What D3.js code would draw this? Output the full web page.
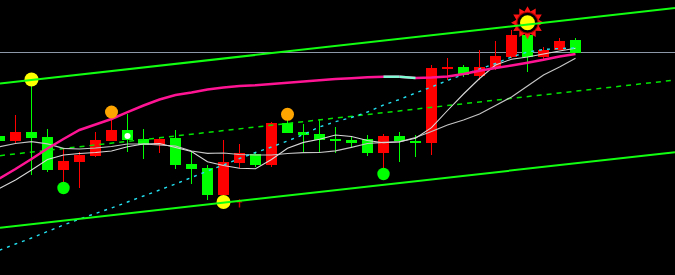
<!DOCTYPE html>
<html><head><meta charset="utf-8">
<script src="https://cdn.jsdelivr.net/npm/d3@7"></script>
<style>html,body{margin:0;padding:0;background:#000;overflow:hidden}</style>
</head><body>
<svg id="c" width="675" height="275"></svg>
<script>
// ---- data (price units) ----
const opens  = [13.9,13.4,14.3,13.8,10.53,11.33,11.93,13.4,14.5,13.57,13.0,13.73,11.1,10.7,8.0,11.23,12.1,11.0,15.23,14.33,14.1,13.6,13.5,13.6,12.23,13.93,13.4,13.17,20.6,20.83,19.9,20.73,21.83,24.0,21.83,22.5,23.5];
const closes = [13.43,14.33,13.73,10.5,11.4,12.0,13.5,14.5,13.5,13.0,13.65,11.0,10.6,8.0,11.33,12.17,11.0,15.2,14.23,14.0,13.5,13.4,13.23,12.23,13.93,13.43,13.17,20.67,20.8,20.0,20.77,21.9,24.0,21.83,22.5,23.4,22.25];
const highs  = [13.95,16.0,19.55,14.6,12.7,12.33,14.35,16.2,16.1,14.6,13.83,14.5,12.4,11.0,13.5,13.1,12.35,15.27,16.0,15.1,15.6,14.83,13.8,14.0,14.1,14.33,14.0,21.0,21.67,21.0,22.5,23.4,24.5,25.2,22.83,23.7,23.73];
const lows   = [13.4,13.1,10.0,10.3,8.7,8.7,11.8,13.4,12.33,11.63,12.23,10.6,9.1,7.5,7.3,10.7,10.8,10.77,14.23,12.2,12.2,12.2,12.83,11.93,10.1,11.33,11.77,12.0,19.5,19.77,19.5,20.5,21.7,20.33,21.57,22.5,22.25];

const maSlow  = [12.83,13.15,13.33,13.12,12.67,12.6,12.7,12.85,13.1,13.1,13.0,12.9,12.4,12.17,12.2,12.05,12.0,12.0,12.15,12.23,12.25,12.42,12.77,13.15,13.27,13.32,13.75,14.35,15.0,15.5,16.1,16.95,17.8,18.9,20.0,20.8,21.67];
const maFast  = [8.65,9.5,10.5,11.55,12.0,12.15,12.25,12.4,12.83,13.1,13.15,12.75,12.35,11.33,10.95,10.68,10.62,11.55,12.67,13.26,13.57,14.0,13.85,13.45,13.23,13.32,13.67,14.73,16.45,18.1,19.65,21.0,21.58,21.8,22.1,22.4,22.67];
const cyanLine = [2.48,3.1,3.7,4.35,5.0,5.6,6.15,6.7,7.3,7.9,8.5,9.1,9.75,10.4,11.0,11.65,12.25,12.8,13.4,14.05,14.8,15.33,15.75,16.3,17.0,17.55,18.2,18.8,19.45,20.05,20.6,21.15,21.8,22.3,22.55,22.65,22.7];
const pinkLine = [9.65,10.6,11.6,12.65,13.6,14.5,15.05,15.6,16.28,16.95,17.55,18.0,18.25,18.55,18.74,18.9,18.98,19.1,19.22,19.35,19.48,19.6,19.68,19.77,19.83,19.83,19.7,19.75,19.85,20.1,20.42,20.7,20.95,21.23,21.52,21.85,22.1];

const channelUpper = [[0,19.14],[36,25.59]];
const channelMid   = [[0,11.93],[36,18.38]];
const channelLower = [[0,4.72],[36,11.17]];

const yellowIdx = [2,14];      const yellowVal = [19.55,7.3];
const orangeIdx = [7,18];      const orangeVal = [16.3,16.07];
const greenIdx  = [4,24];      const greenVal  = [8.7,10.1];
const whiteIdx  = [8];         const whiteVal  = [13.9];
const arrowIdx  = [15];        const arrowVal  = [7.15];
const sunIdx    = [33];        const sunVal    = [25.23];

// ---- drawing ----
const W = 675, H = 275;
const svg = d3.select('#c');
svg.append('rect').attr('width', W).attr('height', H).attr('fill', '#000');

const x = d3.scaleLinear().domain([0, 36]).range([-0.5, 575.5]);
const y = d3.scaleLinear().domain([0, 27.5]).range([275, 0]);

// last price line
const lastClose = closes[closes.length - 1];
svg.append('line').attr('x1', 0).attr('x2', W)
  .attr('y1', y(lastClose)).attr('y2', y(lastClose))
  .attr('stroke', '#8c98a8').attr('stroke-width', 1).attr('shape-rendering', 'crispEdges');

// candles
const idx = d3.range(opens.length);
const up = i => closes[i] > opens[i];
const cg = svg.append('g').attr('shape-rendering', 'crispEdges');
cg.selectAll('rect.w').data(idx).join('rect').attr('class', 'w')
  .attr('x', i => x(i) - 0.5).attr('width', 1)
  .attr('y', i => y(highs[i])).attr('height', i => y(lows[i]) - y(highs[i]))
  .attr('fill', i => up(i) ? '#ff0000' : '#00ff00');
cg.selectAll('rect.b').data(idx).join('rect').attr('class', 'b')
  .attr('x', i => x(i) - 5.5).attr('width', 11)
  .attr('y', i => y(Math.max(opens[i], closes[i])))
  .attr('height', i => Math.max(1, Math.abs(y(opens[i]) - y(closes[i]))))
  .attr('fill', i => up(i) ? '#ff0000' : '#00ff00');

// channel helpers
function trend(anchors) {
  const f = d3.scaleLinear().domain([anchors[0][0], anchors[1][0]]).range([anchors[0][1], anchors[1][1]]);
  const ia = x.invert(0), ib = x.invert(W);
  return [[0, y(f(ia))], [W, y(f(ib))]];
}
const segLine = d3.line();

// mid dashed channel line
svg.append('path').attr('d', segLine(trend(channelMid)))
  .attr('stroke', '#00e600').attr('stroke-width', 1.5).attr('stroke-dasharray', '5,5').attr('fill', 'none');

const line = d3.line().x((d, i) => x(i)).y(d => y(d));
svg.append('path').attr('d', line(maSlow)).attr('stroke', '#c4c4c4').attr('stroke-width', 1.2).attr('fill', 'none');
svg.append('path').attr('d', line(maFast)).attr('stroke', '#d8d8d8').attr('stroke-width', 1.1).attr('fill', 'none');
svg.append('path').attr('d', line(cyanLine)).attr('stroke', '#22e0f0').attr('stroke-width', 1.4)
  .attr('stroke-dasharray', '3,5').attr('fill', 'none');

// pink line with aquamarine flat/falling segments
svg.append('path').attr('d', line(pinkLine)).attr('stroke', '#ff1493').attr('stroke-width', 2.5).attr('fill', 'none');
const flatSegs = d3.range(pinkLine.length - 1).filter(i => pinkLine[i + 1] <= pinkLine[i]);
svg.selectAll('path.aq').data(flatSegs).join('path').attr('class', 'aq')
  .attr('d', i => segLine([[x(i), y(pinkLine[i])], [x(i + 1), y(pinkLine[i + 1])]]))
  .attr('stroke', '#7fffd4').attr('stroke-width', 2.5).attr('fill', 'none');

// markers
function dots(ix, vals, r, color) {
  svg.append('g').selectAll('circle').data(ix).join('circle')
    .attr('cx', (d) => x(d)).attr('cy', (d, k) => y(vals[k])).attr('r', r).attr('fill', color);
}
dots(orangeIdx, orangeVal, 6.5, '#ffa500');
dots(greenIdx, greenVal, 6.2, '#00ff00');
dots(whiteIdx, whiteVal, 3, '#ffffff');

// sun
sunIdx.forEach((d, k) => {
  const cx = x(d), cy = y(sunVal[k]);
  const pts = d3.range(24).map(j => {
    const r = j % 2 === 0 ? 16.5 : 11.5;
    const a = j * Math.PI / 12 - Math.PI / 2;
    return [cx + r * Math.cos(a), cy + r * Math.sin(a)];
  });
  svg.append('path').attr('d', segLine(pts) + 'Z').attr('fill', '#ff1414');
  svg.append('circle').attr('cx', cx).attr('cy', cy).attr('r', 11).attr('fill', '#b00000');
  svg.append('circle').attr('cx', cx).attr('cy', cy).attr('r', 10).attr('fill', '#000');
  svg.append('circle').attr('cx', cx).attr('cy', cy).attr('r', 7.5).attr('fill', '#ffff00');
});
dots(yellowIdx, yellowVal, 7, '#ffff00');

// arrows
arrowIdx.forEach((d, k) => {
  const cx = x(d), cy = y(arrowVal[k]);
  svg.append('path').attr('transform', `translate(${cx},${cy})`)
    .attr('d', 'M0,-4.5 L3,-1 L0.7,-1 L0.7,4 L-0.7,4 L-0.7,-1 L-3,-1 Z').attr('fill', '#d00000');
});

// channel lines on top
[channelUpper, channelLower].forEach(a => {
  svg.append('path').attr('d', segLine(trend(a))).attr('stroke', '#11ff11').attr('stroke-width', 2).attr('fill', 'none');
});
</script>
</body></html>
